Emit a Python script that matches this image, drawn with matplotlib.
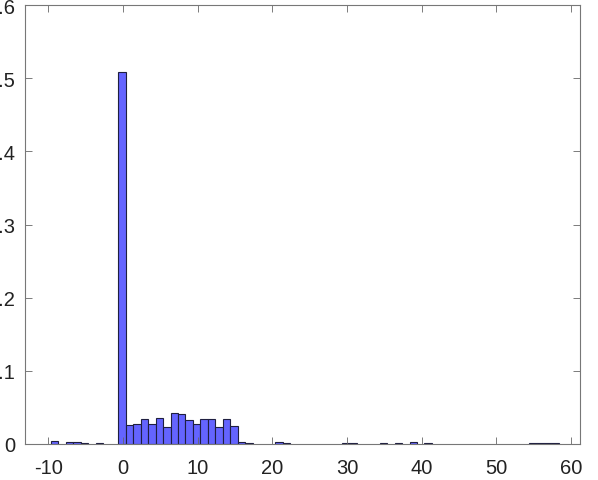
import numpy as np
import matplotlib
matplotlib.use('Agg')
import matplotlib.pyplot as plt

# histogram bins (unit width), left edge of first bin and bar heights
first_edge = -9.62
heights = [0.0045, 0.0, 0.0027, 0.0025, 0.001, 0.0, 0.001, 0.0, 0.0,
           0.508,
           0.026, 0.028, 0.034, 0.028, 0.0355, 0.023, 0.042, 0.041, 0.033,
           0.0273, 0.034, 0.034, 0.023, 0.0337, 0.024,
           0.0025, 0.001, 0.0, 0.0, 0.0, 0.0025, 0.001,
           0.0, 0.0, 0.0, 0.0, 0.0, 0.0, 0.0,
           0.001, 0.001, 0.0, 0.0, 0.0, 0.001, 0.0, 0.001, 0.0, 0.0025, 0.0, 0.001,
           0.0, 0.0, 0.0, 0.0, 0.0, 0.0, 0.0, 0.0, 0.0, 0.0, 0.0, 0.0, 0.0,
           0.001, 0.001, 0.001, 0.002]
xticks = [-10, 0, 10, 20, 30, 40, 50, 60]
yticks = [0, 0.1, 0.2, 0.3, 0.4, 0.5, 0.6]
yticklabels = ['0', '0.1', '0.2', '0.3', '0.4', '0.5', '0.6']

plt.rcParams['font.family'] = ['Liberation Sans', 'DejaVu Sans']
plt.rcParams['axes.unicode_minus'] = False

heights = np.array(heights)
edges = first_edge + np.arange(len(heights) + 1)
mask = heights > 0

fig = plt.figure(figsize=(5.98, 4.81), dpi=100)
ax = fig.add_axes([25/598, 1 - 445/481, 555/598, 439/481])

ax.bar(edges[:-1][mask], heights[mask], width=1.0, align='edge',
       facecolor='#6464ff', edgecolor='#1f1f40', linewidth=0.8)

ax.set_xlim(-13.1, 61.2)
ax.set_ylim(0, 0.6)
ax.set_xticks(xticks)
ax.set_yticks(yticks)
ax.set_yticklabels(yticklabels)
ax.tick_params(direction='in', length=5, width=0.6, color='#666666',
               top=True, right=True, labelsize=14.5, labelcolor='#222222')
ax.tick_params(axis='x', pad=10)
ax.tick_params(axis='y', pad=7)
for s in ax.spines.values():
    s.set_color('#777777')
    s.set_linewidth(0.8)

fig.savefig('out.png', dpi=100)
